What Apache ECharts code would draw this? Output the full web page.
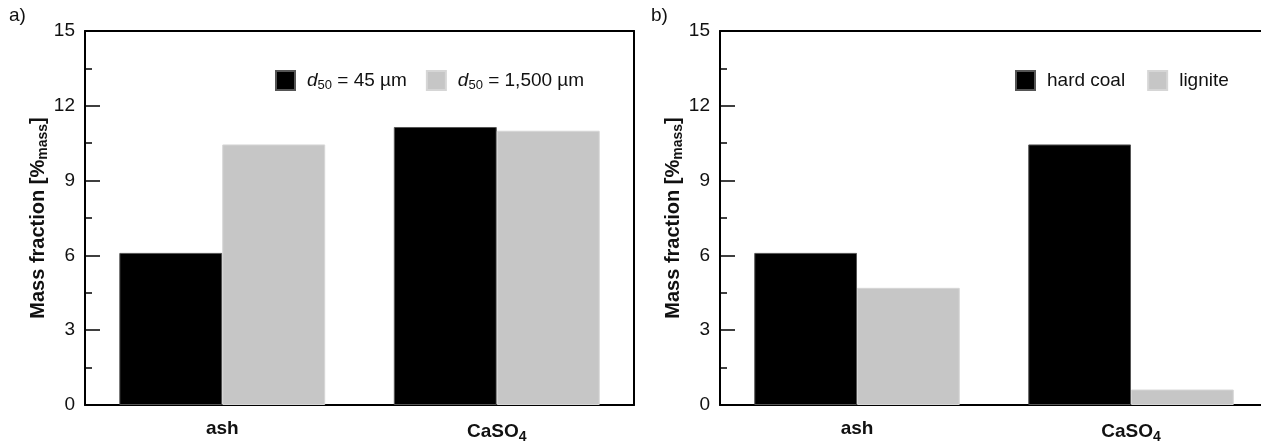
<!DOCTYPE html>
<html><head><meta charset="utf-8">
<script src="https://cdn.jsdelivr.net/npm/echarts@6/dist/echarts.min.js"></script>
<style>html,body{margin:0;padding:0;background:#fff}#c{width:1261px;height:441px}</style>
</head><body><div id="c"></div>
<script>
const categories = ['ash', 'CaSO4'];
const seriesA1 = [6.1, 11.15];   // d50 = 45 µm
const seriesA2 = [10.45, 11.0];  // d50 = 1,500 µm
const seriesB1 = [6.1, 10.45];   // hard coal
const seriesB2 = [4.7, 0.62];    // lignite
const namesA = ['d50 = 45 µm', 'd50 = 1,500 µm'];
const namesB = ['hard coal', 'lignite'];

const FONT = 'Liberation Sans, Arial, sans-serif';
const FS = 19;
const chart = echarts.init(document.getElementById('c'), null, {renderer: 'canvas'});

function yAxis(idx) {
  return {
    gridIndex: idx, type: 'value', min: 0, max: 15, interval: 3,
    axisLine: {show: true, onZero: false, lineStyle: {color: '#000', width: 2}},
    axisTick: {show: true, inside: true, length: 15, lineStyle: {color: '#000', width: 1.5}},
    minorTick: {show: true, splitNumber: 2, length: 7, lineStyle: {color: '#000', width: 1.5}},
    splitLine: {show: false},
    axisLabel: {color: '#111', fontSize: FS, fontFamily: FONT, margin: 10},
    name: '{b|Mass fraction [%}{s|mass}{b|]}',
    nameLocation: 'middle', nameGap: 34, nameRotate: 90,
    nameTextStyle: {
      rich: {
        b: {fontSize: 20, fontWeight: 'bold', fontFamily: FONT, color: '#111'},
        s: {fontSize: 14, fontWeight: 'bold', fontFamily: FONT, color: '#111', padding: [9, 0, 0, 0]}
      }
    }
  };
}
function xAxis(idx) {
  return {
    gridIndex: idx, type: 'category', data: categories, position: 'bottom',
    axisLine: {show: true, onZero: false, lineStyle: {color: '#000', width: 2}},
    axisTick: {show: false},
    axisLabel: {
      margin: 14,
      formatter: v => v === 'CaSO4' ? '{b|CaSO}{s|4}' : '{b|' + v + '}',
      rich: {
        b: {fontSize: FS, fontWeight: 'bold', fontFamily: FONT, color: '#111'},
        s: {fontSize: 14, fontWeight: 'bold', fontFamily: FONT, color: '#111', padding: [11, 0, 0, 0]}
      }
    }
  };
}
function topAxis(idx) {
  return {
    gridIndex: idx, type: 'category', data: categories, position: 'top',
    axisLine: {show: true, onZero: false, lineStyle: {color: '#000', width: 2}},
    axisTick: {show: false}, axisLabel: {show: false}, splitLine: {show: false}
  };
}
function rightAxis(idx) {
  return {
    gridIndex: idx, type: 'value', min: 0, max: 15, position: 'right',
    axisLine: {show: true, onZero: false, lineStyle: {color: '#000', width: 2}},
    axisTick: {show: false}, axisLabel: {show: false}, splitLine: {show: false}
  };
}
const legendRich = {
  i: {fontStyle: 'italic', fontSize: FS, fontFamily: FONT, color: '#111'},
  s: {fontSize: 13, fontFamily: FONT, color: '#111', padding: [9, 0, 0, 0]},
  t: {fontSize: FS, fontFamily: FONT, color: '#111'}
};
function barSeries(name, data, color, x, y, edge) {
  return {
    name, type: 'bar', xAxisIndex: x, yAxisIndex: y, data,
    barGap: '0%', barCategoryGap: '25%',
    itemStyle: {color, borderColor: edge, borderWidth: 1},
    emphasis: {disabled: true}
  };
}
chart.setOption({
  animation: false,
  textStyle: {fontFamily: FONT},
  grid: [
    {left: 85, top: 31, width: 549, height: 374, show: false, outerBoundsMode: 'none', containLabel: false},
    {left: 720, top: 31, width: 548, height: 374, show: false, outerBoundsMode: 'none', containLabel: false}
  ],
  xAxis: [xAxis(0), xAxis(1), topAxis(0), topAxis(1)],
  yAxis: [yAxis(0), yAxis(1), rightAxis(0)],
  legend: [
    {
      data: namesA, left: 270, top: 65, itemWidth: 19, itemHeight: 19, itemGap: 19, icon: 'rect',
      selectedMode: false,
      formatter: n => n === namesA[0] ? '{i|d}{s|50}{t| = 45 µm}' : '{i|d}{s|50}{t| = 1,500 µm}',
      textStyle: {rich: legendRich, padding: [0, 0, 0, 7]}
    },
    {
      data: namesB, left: 1010, top: 65, itemWidth: 19, itemHeight: 19, itemGap: 22, icon: 'rect',
      selectedMode: false,
      textStyle: {fontSize: FS, fontFamily: FONT, color: '#111', padding: [0, 0, 0, 7]}
    }
  ],
  series: [
    barSeries(namesA[0], seriesA1, '#000000', 0, 0, '#555'),
    barSeries(namesA[1], seriesA2, '#c6c6c6', 0, 0, '#d6d6d6'),
    barSeries(namesB[0], seriesB1, '#000000', 1, 1, '#555'),
    barSeries(namesB[1], seriesB2, '#c6c6c6', 1, 1, '#d6d6d6')
  ],
  graphic: [
    {type: 'text', left: 9, top: 6, style: {text: 'a)', fontSize: FS, fontFamily: FONT, fill: '#111'}},
    {type: 'text', left: 651, top: 6, style: {text: 'b)', fontSize: FS, fontFamily: FONT, fill: '#111'}}
  ]
});
</script></body></html>
